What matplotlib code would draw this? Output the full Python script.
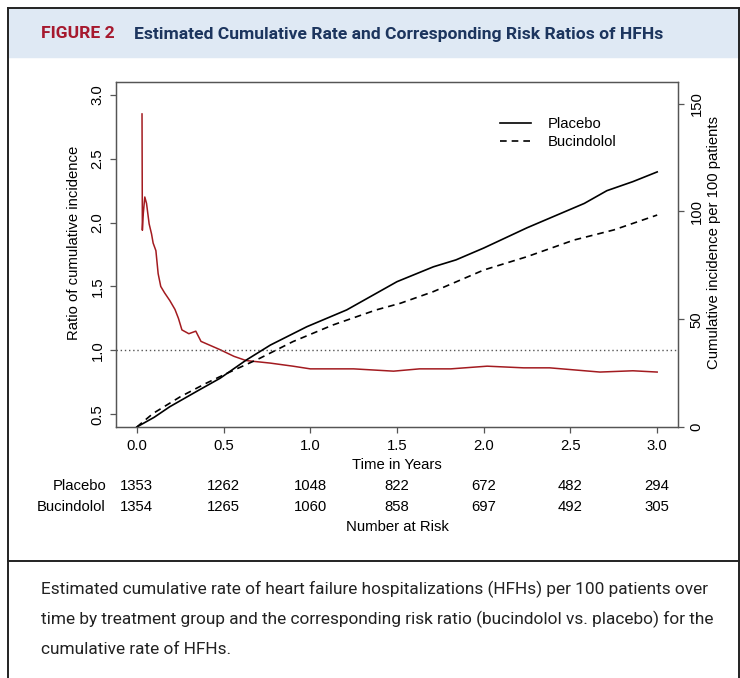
import numpy as np
import matplotlib.pyplot as plt
from matplotlib.transforms import blended_transform_factory
from matplotlib.patches import Rectangle
from matplotlib.lines import Line2D

plt.rcParams['font.family'] = ['Liberation Sans', 'DejaVu Sans']

# cumulative incidence per 100 patients (right axis)
t_placebo = [0, 0.10, 0.19, 0.36, 0.48, 0.63, 0.77, 0.98, 1.21, 1.50, 1.71, 1.84,
             2.0, 2.25, 2.58, 2.71, 2.86, 3.0]
placebo = [0, 4.5, 9.4, 17.2, 22.6, 31, 38, 46.5, 54.3, 67.4, 74.3, 77.5,
           83, 92.4, 103.7, 109.6, 113.8, 118.3]
t_bucin = [0, 0.094, 0.25, 0.40, 0.52, 0.71, 0.90, 1.13, 1.38, 1.52, 1.71,
           2.0, 2.25, 2.52, 2.75, 3.0]
bucin = [0, 6.3, 14, 20.3, 24.9, 31.9, 39.6, 47.3, 54.3, 57.4, 62.8,
         72.8, 79, 86.7, 91.4, 98.3]

# ratio of cumulative incidence (left axis)
t_ratio = [0.030, 0.032, 0.036, 0.046, 0.056, 0.071, 0.085, 0.094, 0.11, 0.123,
           0.138, 0.16, 0.19, 0.22, 0.24, 0.26, 0.30, 0.34, 0.37, 0.48, 0.56,
           0.63, 0.77, 0.90, 1.0, 1.25, 1.48, 1.63, 1.81, 2.02, 2.23, 2.38,
           2.67, 2.86, 3.0]
ratio = [2.85, 1.94, 2.05, 2.20, 2.15, 1.99, 1.91, 1.84, 1.78, 1.60,
         1.50, 1.45, 1.39, 1.32, 1.25, 1.16, 1.13, 1.15, 1.07, 1.005, 0.953,
         0.92, 0.90, 0.876, 0.855, 0.855, 0.837, 0.855, 0.855, 0.876, 0.863, 0.863,
         0.83, 0.84, 0.83]

years = [0.0, 0.5, 1.0, 1.5, 2.0, 2.5, 3.0]
risk_placebo = [1353, 1262, 1048, 822, 672, 482, 294]
risk_bucin = [1354, 1265, 1060, 858, 697, 492, 305]

W, H = 740, 678
RED = '#a31b20'
FS = 10.7


def fx(px):
    return px / W


def fy(py):
    return 1 - py / H


fig = plt.figure(figsize=(W / 100, H / 100), dpi=100)

# header band and frame
fig.patches.append(Rectangle((fx(8), fy(57)), fx(740) - fx(8), fy(9) - fy(57),
                             transform=fig.transFigure, color='#dfe9f4', zorder=0))
for xs, ys in [([8, 8], [8, 678]), ([8, 740], [8, 8]), ([739, 739], [8, 678]),
               ([8, 740], [561, 561])]:
    fig.add_artist(Line2D([fx(x) for x in xs], [fy(y) for y in ys],
                          color='#222222', lw=1.4))

fig.text(fx(41), fy(34), 'FIGURE 2', color='#a6192e', fontweight='bold',
         family='Roboto', fontsize=12.6, va='center')
fig.text(fx(134), fy(34), 'Estimated Cumulative Rate and Corresponding Risk Ratios of HFHs',
         color='#1c355e', fontweight='bold', family='Roboto', fontsize=12.6, va='center')

caption = ['Estimated cumulative rate of heart failure hospitalizations (HFHs) per 100 patients over',
           'time by treatment group and the corresponding risk ratio (bucindolol vs. placebo) for the',
           'cumulative rate of HFHs.']
for i, line in enumerate(caption):
    fig.text(fx(41), fy(589 + 30 * i), line, family='Roboto', fontsize=12.4,
             color='#222222', va='center')

# main axes
ax = fig.add_axes([fx(116), fy(427), fx(678) - fx(116), fy(82) - fy(427)])
ax.plot(t_ratio, ratio, color=RED, lw=1.1)
ax.axhline(1.0, color='#555555', ls=(0, (1, 2)), lw=1.0)
ax.set_xlim(-0.12, 3.12)
ax.set_ylim(0.4, 3.1)
ax.set_xticks(years)
ax.set_xticklabels(['%.1f' % y for y in years])
ax.set_yticks([0.5, 1.0, 1.5, 2.0, 2.5, 3.0])
ax.set_yticklabels(['0.5', '1.0', '1.5', '2.0', '2.5', '3.0'])
ax.set_ylabel('Ratio of cumulative incidence', fontsize=FS)
ax.yaxis.set_label_coords(-0.062, 0.535)

ax2 = ax.twinx()
ax2.plot(t_placebo, placebo, color='black', lw=1.2, label='Placebo')
ax2.plot(t_bucin, bucin, color='black', lw=1.2, ls=(0, (4, 3)), label='Bucindolol')
ax2.set_ylim(0, 160)
ax2.set_yticks([0, 50, 100, 150])
ax2.set_ylabel('Cumulative incidence per 100 patients', fontsize=FS)
ax2.yaxis.set_label_coords(1.052, 0.535)

for a in (ax, ax2):
    for s in a.spines.values():
        s.set_color('#555555')
        s.set_linewidth(0.9)
    a.tick_params(length=4.3, width=0.9, color='#555555', labelsize=FS, pad=4)
for lbl in ax.get_yticklabels() + ax2.get_yticklabels():
    lbl.set_rotation(90)
    lbl.set_va('center')

leg = ax2.legend(loc='upper left', bbox_to_anchor=((500 - 116) / 562, (427 - 117) / 345),
                 frameon=False, fontsize=FS, handlelength=2.1, handletextpad=1.1,
                 labelspacing=0.25, borderpad=0, borderaxespad=0)

# time axis label and number at risk
fig.text(fx(397), fy(465), 'Time in Years', ha='center', va='center', fontsize=FS)
trans = blended_transform_factory(ax.transData, fig.transFigure)
for y, n1, n2 in zip(years, risk_placebo, risk_bucin):
    fig.text(y, fy(486), str(n1), transform=trans, ha='center', va='center', fontsize=FS)
    fig.text(y, fy(507), str(n2), transform=trans, ha='center', va='center', fontsize=FS)
fig.text(fx(106), fy(486), 'Placebo', ha='right', va='center', fontsize=FS)
fig.text(fx(106), fy(507), 'Bucindolol', ha='right', va='center', fontsize=FS)
fig.text(fx(397), fy(527), 'Number at Risk', ha='center', va='center', fontsize=FS)

fig.savefig('out.png', dpi=100)
